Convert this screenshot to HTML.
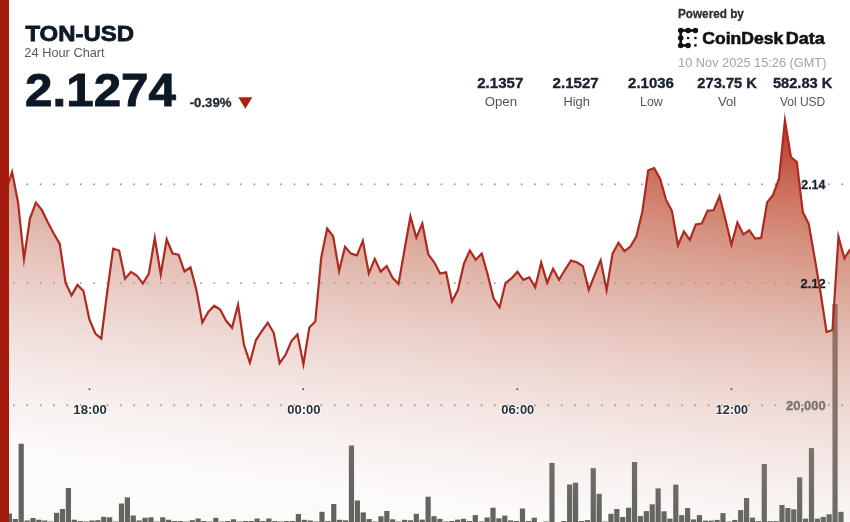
<!DOCTYPE html>
<html><head><meta charset="utf-8"><style>
html,body{margin:0;padding:0;background:#fff;width:850px;height:522px;overflow:hidden}
svg{display:block;will-change:transform;font-family:"Liberation Sans",sans-serif}
</style></head><body>
<svg width="850" height="522" viewBox="0 0 850 522">
<defs><linearGradient id="g" gradientUnits="userSpaceOnUse" x1="650" y1="124" x2="602.56" y2="519.31"><stop offset="0" stop-color="rgb(183,49,30)" stop-opacity="0.9"/><stop offset="0.14" stop-color="rgb(192,78,52)" stop-opacity="0.78"/><stop offset="0.26" stop-color="rgb(196,100,74)" stop-opacity="0.7"/><stop offset="0.47" stop-color="rgb(201,125,106)" stop-opacity="0.51"/><stop offset="0.75" stop-color="rgb(211,155,143)" stop-opacity="0.27"/><stop offset="0.91" stop-color="rgb(205,163,152)" stop-opacity="0.12"/><stop offset="1" stop-color="rgb(200,130,125)" stop-opacity="0.04"/></linearGradient></defs>
<rect x="0" y="0" width="850" height="522" fill="#fff"/>
<g fill="#5c645d"><rect x="6.8" y="513.5" width="5.2" height="8.5"/><rect x="12.7" y="519" width="5.2" height="3"/><rect x="18.6" y="443.7" width="5.2" height="78.3"/><rect x="24.5" y="520.5" width="5.2" height="1.5"/><rect x="30.39" y="518" width="5.2" height="4"/><rect x="36.29" y="519.7" width="5.2" height="2.3"/><rect x="42.19" y="520.5" width="5.2" height="1.5"/><rect x="48.09" y="521.5" width="5.2" height="0.5"/><rect x="53.98" y="512.8" width="5.2" height="9.2"/><rect x="59.88" y="509" width="5.2" height="13"/><rect x="65.78" y="488" width="5.2" height="34"/><rect x="71.68" y="519.7" width="5.2" height="2.3"/><rect x="77.58" y="521" width="5.2" height="1"/><rect x="83.47" y="521.5" width="5.2" height="0.5"/><rect x="89.37" y="520.5" width="5.2" height="1.5"/><rect x="95.27" y="520.2" width="5.2" height="1.8"/><rect x="101.17" y="516.8" width="5.2" height="5.2"/><rect x="107.06" y="517.3" width="5.2" height="4.7"/><rect x="112.96" y="521.5" width="5.2" height="0.5"/><rect x="118.86" y="503.5" width="5.2" height="18.5"/><rect x="124.76" y="497.3" width="5.2" height="24.7"/><rect x="130.65" y="515.5" width="5.2" height="6.5"/><rect x="136.55" y="520.5" width="5.2" height="1.5"/><rect x="142.45" y="517.8" width="5.2" height="4.2"/><rect x="148.34" y="517.3" width="5.2" height="4.7"/><rect x="154.24" y="521.5" width="5.2" height="0.5"/><rect x="160.14" y="517.3" width="5.2" height="4.7"/><rect x="166.04" y="519.7" width="5.2" height="2.3"/><rect x="171.94" y="521" width="5.2" height="1"/><rect x="177.83" y="521" width="5.2" height="1"/><rect x="183.73" y="521.5" width="5.2" height="0.5"/><rect x="189.63" y="520.2" width="5.2" height="1.8"/><rect x="195.53" y="518.5" width="5.2" height="3.5"/><rect x="201.42" y="521" width="5.2" height="1"/><rect x="207.32" y="521.5" width="5.2" height="0.5"/><rect x="213.22" y="517.8" width="5.2" height="4.2"/><rect x="219.11" y="521.5" width="5.2" height="0.5"/><rect x="225.01" y="521" width="5.2" height="1"/><rect x="230.91" y="519.3" width="5.2" height="2.7"/><rect x="236.81" y="521.5" width="5.2" height="0.5"/><rect x="242.7" y="521" width="5.2" height="1"/><rect x="248.6" y="521" width="5.2" height="1"/><rect x="254.5" y="518.5" width="5.2" height="3.5"/><rect x="260.4" y="521" width="5.2" height="1"/><rect x="266.29" y="518.5" width="5.2" height="3.5"/><rect x="272.19" y="521" width="5.2" height="1"/><rect x="278.09" y="521.5" width="5.2" height="0.5"/><rect x="283.99" y="521" width="5.2" height="1"/><rect x="289.88" y="521" width="5.2" height="1"/><rect x="295.78" y="514" width="5.2" height="8"/><rect x="301.68" y="519.8" width="5.2" height="2.2"/><rect x="307.58" y="520.5" width="5.2" height="1.5"/><rect x="313.47" y="521.5" width="5.2" height="0.5"/><rect x="319.37" y="511.8" width="5.2" height="10.2"/><rect x="325.27" y="521" width="5.2" height="1"/><rect x="331.17" y="504" width="5.2" height="18"/><rect x="337.06" y="519.8" width="5.2" height="2.2"/><rect x="342.96" y="520.3" width="5.2" height="1.7"/><rect x="348.86" y="445.5" width="5.2" height="76.5"/><rect x="354.76" y="500.5" width="5.2" height="21.5"/><rect x="360.65" y="512.4" width="5.2" height="9.6"/><rect x="366.55" y="519" width="5.2" height="3"/><rect x="372.45" y="521.5" width="5.2" height="0.5"/><rect x="378.35" y="516.3" width="5.2" height="5.7"/><rect x="384.24" y="511" width="5.2" height="11"/><rect x="390.14" y="519.3" width="5.2" height="2.7"/><rect x="396.04" y="521.5" width="5.2" height="0.5"/><rect x="401.94" y="519.8" width="5.2" height="2.2"/><rect x="407.83" y="520.3" width="5.2" height="1.7"/><rect x="413.73" y="513.8" width="5.2" height="8.2"/><rect x="419.63" y="519.6" width="5.2" height="2.4"/><rect x="425.53" y="496.7" width="5.2" height="25.3"/><rect x="431.42" y="516.2" width="5.2" height="5.8"/><rect x="437.32" y="518.8" width="5.2" height="3.2"/><rect x="443.22" y="521.4" width="5.2" height="0.6"/><rect x="449.12" y="521" width="5.2" height="1"/><rect x="455.01" y="519.6" width="5.2" height="2.4"/><rect x="460.91" y="518.8" width="5.2" height="3.2"/><rect x="466.81" y="521" width="5.2" height="1"/><rect x="472.71" y="515.1" width="5.2" height="6.9"/><rect x="478.6" y="521.4" width="5.2" height="0.6"/><rect x="484.5" y="517.5" width="5.2" height="4.5"/><rect x="490.4" y="507.7" width="5.2" height="14.3"/><rect x="496.3" y="518.3" width="5.2" height="3.7"/><rect x="502.19" y="515.6" width="5.2" height="6.4"/><rect x="508.09" y="520.4" width="5.2" height="1.6"/><rect x="513.99" y="521" width="5.2" height="1"/><rect x="519.89" y="508.5" width="5.2" height="13.5"/><rect x="525.78" y="521" width="5.2" height="1"/><rect x="531.68" y="517.7" width="5.2" height="4.3"/><rect x="543.48" y="521.5" width="5.2" height="0.5"/><rect x="549.38" y="462.9" width="5.2" height="59.1"/><rect x="561.17" y="521" width="5.2" height="1"/><rect x="567.07" y="484.5" width="5.2" height="37.5"/><rect x="572.97" y="482.7" width="5.2" height="39.3"/><rect x="578.86" y="521" width="5.2" height="1"/><rect x="584.76" y="520.1" width="5.2" height="1.9"/><rect x="590.66" y="468.2" width="5.2" height="53.8"/><rect x="596.56" y="493.8" width="5.2" height="28.2"/><rect x="602.45" y="521.5" width="5.2" height="0.5"/><rect x="608.35" y="513.8" width="5.2" height="8.2"/><rect x="614.25" y="509" width="5.2" height="13"/><rect x="620.14" y="517" width="5.2" height="5"/><rect x="626.04" y="507.7" width="5.2" height="14.3"/><rect x="631.94" y="462" width="5.2" height="60"/><rect x="637.84" y="516.1" width="5.2" height="5.9"/><rect x="643.74" y="511.1" width="5.2" height="10.9"/><rect x="649.63" y="504.3" width="5.2" height="17.7"/><rect x="655.53" y="488.4" width="5.2" height="33.6"/><rect x="661.43" y="511.3" width="5.2" height="10.7"/><rect x="667.33" y="518.6" width="5.2" height="3.4"/><rect x="673.22" y="484.6" width="5.2" height="37.4"/><rect x="679.12" y="515.1" width="5.2" height="6.9"/><rect x="685.02" y="508" width="5.2" height="14"/><rect x="690.91" y="519.4" width="5.2" height="2.6"/><rect x="696.81" y="515.1" width="5.2" height="6.9"/><rect x="702.71" y="520.6" width="5.2" height="1.4"/><rect x="708.61" y="520.6" width="5.2" height="1.4"/><rect x="714.5" y="519.9" width="5.2" height="2.1"/><rect x="720.4" y="513.1" width="5.2" height="8.9"/><rect x="726.3" y="521.5" width="5.2" height="0.5"/><rect x="732.2" y="519.9" width="5.2" height="2.1"/><rect x="738.1" y="510.1" width="5.2" height="11.9"/><rect x="743.99" y="498" width="5.2" height="24"/><rect x="749.89" y="517.6" width="5.2" height="4.4"/><rect x="755.79" y="521.1" width="5.2" height="0.9"/><rect x="761.69" y="464" width="5.2" height="58"/><rect x="767.58" y="521.1" width="5.2" height="0.9"/><rect x="773.48" y="521.1" width="5.2" height="0.9"/><rect x="779.38" y="505" width="5.2" height="17"/><rect x="785.27" y="508" width="5.2" height="14"/><rect x="791.17" y="509.3" width="5.2" height="12.7"/><rect x="797.07" y="477.3" width="5.2" height="44.7"/><rect x="802.97" y="518.6" width="5.2" height="3.4"/><rect x="808.87" y="448.1" width="5.2" height="73.9"/><rect x="814.76" y="518.6" width="5.2" height="3.4"/><rect x="820.66" y="516.9" width="5.2" height="5.1"/><rect x="826.56" y="514.3" width="5.2" height="7.7"/><rect x="832.46" y="304" width="5.2" height="218"/><rect x="838.35" y="511.8" width="5.2" height="10.2"/></g>
<path d="M6.15,190 L12.1,172 L18.05,202.4 L23.99,259 L29.94,218.6 L35.88,202.6 L41.83,209.9 L47.77,222.3 L53.72,233.5 L59.66,243.6 L65.61,282.9 L71.55,295.4 L77.5,284.9 L83.44,291.1 L89.38,319.3 L95.33,333.5 L101.28,338.5 L107.22,292 L113.16,248.7 L119.11,250.5 L125.06,278.7 L131,271.9 L136.94,275.7 L142.89,283.6 L148.84,273.7 L154.78,237.8 L160.72,274.5 L166.67,239.5 L172.62,253.5 L178.56,254.7 L184.5,271.5 L190.45,267.4 L196.4,289.9 L202.34,322.5 L208.28,312 L214.23,305.7 L220.18,309.5 L226.12,320.8 L232.06,327.8 L238.01,304.7 L243.96,344.8 L249.9,362.7 L255.84,340.3 L261.79,331.1 L267.74,322.8 L273.68,332.8 L279.63,363.2 L285.57,354.8 L291.52,341 L297.46,334.3 L303.41,364.3 L309.35,327.5 L315.3,321.5 L321.24,257.4 L327.19,228.6 L333.13,236.2 L339.08,271.1 L345.02,246.8 L350.97,253.6 L356.91,255.4 L362.86,240.9 L368.8,273.3 L374.75,258.9 L380.69,271.6 L386.64,266.1 L392.58,277.8 L398.53,284 L404.47,250 L410.42,216.5 L416.36,237.6 L422.31,223.6 L428.25,254.3 L434.2,262.3 L440.14,273.5 L446.09,272.3 L452.03,301.5 L457.98,289.8 L463.92,263.6 L469.87,250.6 L475.81,259.8 L481.76,253.6 L487.7,274.8 L493.65,298.5 L499.59,307.3 L505.54,282.8 L511.48,278.5 L517.43,271.8 L523.37,279.8 L529.32,277.3 L535.26,287.3 L541.21,262.6 L547.15,282.8 L553.1,268.8 L559.04,279.8 L564.99,269.8 L570.93,260.6 L576.88,262.3 L582.82,266.1 L588.77,289.8 L594.71,274.8 L600.66,260.2 L606.6,290.1 L612.55,253.6 L618.49,242.8 L624.44,251.1 L630.38,246.5 L636.33,236.5 L642.27,212 L648.22,170.2 L654.16,168 L660.11,178.7 L666.05,199.9 L672,211.1 L677.94,245.3 L683.89,231.4 L689.83,240 L695.78,224.4 L701.72,223.6 L707.67,210.6 L713.61,210.3 L719.56,196.1 L725.5,219.8 L731.45,244.8 L737.39,222.5 L743.34,234.4 L749.28,230.3 L755.23,238.6 L761.17,237.9 L767.12,202.4 L773.06,194.9 L779.01,178.7 L784.95,120.5 L790.9,157 L796.84,162 L802.79,212 L808.73,223.8 L814.68,258 L820.62,293 L826.57,332 L832.51,330 L838.46,236.6 L844.4,258.3 L850.35,249 L850.35,522 L6.15,522 Z" fill="url(#g)"/>
<g fill="#959595"><circle cx="13.94" cy="184.3" r="0.95"/><circle cx="27.3" cy="184.3" r="0.95"/><circle cx="40.66" cy="184.3" r="0.95"/><circle cx="54.02" cy="184.3" r="0.95"/><circle cx="67.38" cy="184.3" r="0.95"/><circle cx="80.74" cy="184.3" r="0.95"/><circle cx="94.1" cy="184.3" r="0.95"/><circle cx="107.46" cy="184.3" r="0.95"/><circle cx="120.82" cy="184.3" r="0.95"/><circle cx="134.18" cy="184.3" r="0.95"/><circle cx="147.54" cy="184.3" r="0.95"/><circle cx="160.9" cy="184.3" r="0.95"/><circle cx="174.26" cy="184.3" r="0.95"/><circle cx="187.62" cy="184.3" r="0.95"/><circle cx="200.98" cy="184.3" r="0.95"/><circle cx="214.34" cy="184.3" r="0.95"/><circle cx="227.7" cy="184.3" r="0.95"/><circle cx="241.06" cy="184.3" r="0.95"/><circle cx="254.42" cy="184.3" r="0.95"/><circle cx="267.78" cy="184.3" r="0.95"/><circle cx="281.14" cy="184.3" r="0.95"/><circle cx="294.5" cy="184.3" r="0.95"/><circle cx="307.86" cy="184.3" r="0.95"/><circle cx="321.22" cy="184.3" r="0.95"/><circle cx="334.58" cy="184.3" r="0.95"/><circle cx="347.94" cy="184.3" r="0.95"/><circle cx="361.3" cy="184.3" r="0.95"/><circle cx="374.66" cy="184.3" r="0.95"/><circle cx="388.02" cy="184.3" r="0.95"/><circle cx="401.38" cy="184.3" r="0.95"/><circle cx="414.74" cy="184.3" r="0.95"/><circle cx="428.1" cy="184.3" r="0.95"/><circle cx="441.46" cy="184.3" r="0.95"/><circle cx="454.82" cy="184.3" r="0.95"/><circle cx="468.18" cy="184.3" r="0.95"/><circle cx="481.54" cy="184.3" r="0.95"/><circle cx="494.9" cy="184.3" r="0.95"/><circle cx="508.26" cy="184.3" r="0.95"/><circle cx="521.62" cy="184.3" r="0.95"/><circle cx="534.98" cy="184.3" r="0.95"/><circle cx="548.34" cy="184.3" r="0.95"/><circle cx="561.7" cy="184.3" r="0.95"/><circle cx="575.06" cy="184.3" r="0.95"/><circle cx="588.42" cy="184.3" r="0.95"/><circle cx="601.78" cy="184.3" r="0.95"/><circle cx="615.14" cy="184.3" r="0.95"/><circle cx="628.5" cy="184.3" r="0.95"/><circle cx="641.86" cy="184.3" r="0.95"/><circle cx="655.22" cy="184.3" r="0.95"/><circle cx="668.58" cy="184.3" r="0.95"/><circle cx="681.94" cy="184.3" r="0.95"/><circle cx="695.3" cy="184.3" r="0.95"/><circle cx="708.66" cy="184.3" r="0.95"/><circle cx="722.02" cy="184.3" r="0.95"/><circle cx="735.38" cy="184.3" r="0.95"/><circle cx="748.74" cy="184.3" r="0.95"/><circle cx="762.1" cy="184.3" r="0.95"/><circle cx="775.46" cy="184.3" r="0.95"/><circle cx="788.82" cy="184.3" r="0.95"/><circle cx="802.18" cy="184.3" r="0.95"/><circle cx="815.54" cy="184.3" r="0.95"/><circle cx="828.9" cy="184.3" r="0.95"/><circle cx="842.26" cy="184.3" r="0.95"/><circle cx="13.94" cy="283.1" r="0.95"/><circle cx="27.3" cy="283.1" r="0.95"/><circle cx="40.66" cy="283.1" r="0.95"/><circle cx="54.02" cy="283.1" r="0.95"/><circle cx="67.38" cy="283.1" r="0.95"/><circle cx="80.74" cy="283.1" r="0.95"/><circle cx="94.1" cy="283.1" r="0.95"/><circle cx="107.46" cy="283.1" r="0.95"/><circle cx="120.82" cy="283.1" r="0.95"/><circle cx="134.18" cy="283.1" r="0.95"/><circle cx="147.54" cy="283.1" r="0.95"/><circle cx="160.9" cy="283.1" r="0.95"/><circle cx="174.26" cy="283.1" r="0.95"/><circle cx="187.62" cy="283.1" r="0.95"/><circle cx="200.98" cy="283.1" r="0.95"/><circle cx="214.34" cy="283.1" r="0.95"/><circle cx="227.7" cy="283.1" r="0.95"/><circle cx="241.06" cy="283.1" r="0.95"/><circle cx="254.42" cy="283.1" r="0.95"/><circle cx="267.78" cy="283.1" r="0.95"/><circle cx="281.14" cy="283.1" r="0.95"/><circle cx="294.5" cy="283.1" r="0.95"/><circle cx="307.86" cy="283.1" r="0.95"/><circle cx="321.22" cy="283.1" r="0.95"/><circle cx="334.58" cy="283.1" r="0.95"/><circle cx="347.94" cy="283.1" r="0.95"/><circle cx="361.3" cy="283.1" r="0.95"/><circle cx="374.66" cy="283.1" r="0.95"/><circle cx="388.02" cy="283.1" r="0.95"/><circle cx="401.38" cy="283.1" r="0.95"/><circle cx="414.74" cy="283.1" r="0.95"/><circle cx="428.1" cy="283.1" r="0.95"/><circle cx="441.46" cy="283.1" r="0.95"/><circle cx="454.82" cy="283.1" r="0.95"/><circle cx="468.18" cy="283.1" r="0.95"/><circle cx="481.54" cy="283.1" r="0.95"/><circle cx="494.9" cy="283.1" r="0.95"/><circle cx="508.26" cy="283.1" r="0.95"/><circle cx="521.62" cy="283.1" r="0.95"/><circle cx="534.98" cy="283.1" r="0.95"/><circle cx="548.34" cy="283.1" r="0.95"/><circle cx="561.7" cy="283.1" r="0.95"/><circle cx="575.06" cy="283.1" r="0.95"/><circle cx="588.42" cy="283.1" r="0.95"/><circle cx="601.78" cy="283.1" r="0.95"/><circle cx="615.14" cy="283.1" r="0.95"/><circle cx="628.5" cy="283.1" r="0.95"/><circle cx="641.86" cy="283.1" r="0.95"/><circle cx="655.22" cy="283.1" r="0.95"/><circle cx="668.58" cy="283.1" r="0.95"/><circle cx="681.94" cy="283.1" r="0.95"/><circle cx="695.3" cy="283.1" r="0.95"/><circle cx="708.66" cy="283.1" r="0.95"/><circle cx="722.02" cy="283.1" r="0.95"/><circle cx="735.38" cy="283.1" r="0.95"/><circle cx="748.74" cy="283.1" r="0.95"/><circle cx="762.1" cy="283.1" r="0.95"/><circle cx="775.46" cy="283.1" r="0.95"/><circle cx="788.82" cy="283.1" r="0.95"/><circle cx="802.18" cy="283.1" r="0.95"/><circle cx="815.54" cy="283.1" r="0.95"/><circle cx="828.9" cy="283.1" r="0.95"/><circle cx="842.26" cy="283.1" r="0.95"/><circle cx="13.94" cy="405.2" r="0.95"/><circle cx="27.3" cy="405.2" r="0.95"/><circle cx="40.66" cy="405.2" r="0.95"/><circle cx="54.02" cy="405.2" r="0.95"/><circle cx="67.38" cy="405.2" r="0.95"/><circle cx="80.74" cy="405.2" r="0.95"/><circle cx="94.1" cy="405.2" r="0.95"/><circle cx="107.46" cy="405.2" r="0.95"/><circle cx="120.82" cy="405.2" r="0.95"/><circle cx="134.18" cy="405.2" r="0.95"/><circle cx="147.54" cy="405.2" r="0.95"/><circle cx="160.9" cy="405.2" r="0.95"/><circle cx="174.26" cy="405.2" r="0.95"/><circle cx="187.62" cy="405.2" r="0.95"/><circle cx="200.98" cy="405.2" r="0.95"/><circle cx="214.34" cy="405.2" r="0.95"/><circle cx="227.7" cy="405.2" r="0.95"/><circle cx="241.06" cy="405.2" r="0.95"/><circle cx="254.42" cy="405.2" r="0.95"/><circle cx="267.78" cy="405.2" r="0.95"/><circle cx="281.14" cy="405.2" r="0.95"/><circle cx="294.5" cy="405.2" r="0.95"/><circle cx="307.86" cy="405.2" r="0.95"/><circle cx="321.22" cy="405.2" r="0.95"/><circle cx="334.58" cy="405.2" r="0.95"/><circle cx="347.94" cy="405.2" r="0.95"/><circle cx="361.3" cy="405.2" r="0.95"/><circle cx="374.66" cy="405.2" r="0.95"/><circle cx="388.02" cy="405.2" r="0.95"/><circle cx="401.38" cy="405.2" r="0.95"/><circle cx="414.74" cy="405.2" r="0.95"/><circle cx="428.1" cy="405.2" r="0.95"/><circle cx="441.46" cy="405.2" r="0.95"/><circle cx="454.82" cy="405.2" r="0.95"/><circle cx="468.18" cy="405.2" r="0.95"/><circle cx="481.54" cy="405.2" r="0.95"/><circle cx="494.9" cy="405.2" r="0.95"/><circle cx="508.26" cy="405.2" r="0.95"/><circle cx="521.62" cy="405.2" r="0.95"/><circle cx="534.98" cy="405.2" r="0.95"/><circle cx="548.34" cy="405.2" r="0.95"/><circle cx="561.7" cy="405.2" r="0.95"/><circle cx="575.06" cy="405.2" r="0.95"/><circle cx="588.42" cy="405.2" r="0.95"/><circle cx="601.78" cy="405.2" r="0.95"/><circle cx="615.14" cy="405.2" r="0.95"/><circle cx="628.5" cy="405.2" r="0.95"/><circle cx="641.86" cy="405.2" r="0.95"/><circle cx="655.22" cy="405.2" r="0.95"/><circle cx="668.58" cy="405.2" r="0.95"/><circle cx="681.94" cy="405.2" r="0.95"/><circle cx="695.3" cy="405.2" r="0.95"/><circle cx="708.66" cy="405.2" r="0.95"/><circle cx="722.02" cy="405.2" r="0.95"/><circle cx="735.38" cy="405.2" r="0.95"/><circle cx="748.74" cy="405.2" r="0.95"/><circle cx="762.1" cy="405.2" r="0.95"/><circle cx="775.46" cy="405.2" r="0.95"/><circle cx="788.82" cy="405.2" r="0.95"/><circle cx="802.18" cy="405.2" r="0.95"/><circle cx="815.54" cy="405.2" r="0.95"/><circle cx="828.9" cy="405.2" r="0.95"/><circle cx="842.26" cy="405.2" r="0.95"/></g>
<g fill="#444"><rect x="88.7" y="388.4" width="1.6" height="1.6"/><rect x="302.4" y="388.4" width="1.6" height="1.6"/><rect x="516.5" y="388.4" width="1.6" height="1.6"/><rect x="730.7" y="388.4" width="1.6" height="1.6"/></g>
<text x="801.34" y="189.2" font-weight="bold" font-size="13" fill="#1c2330" textLength="23.98" lengthAdjust="spacingAndGlyphs" stroke="#1c2330" stroke-width="0.3">2.14</text>
<text x="800.41" y="287.9" font-weight="bold" font-size="13" fill="#1c2330" textLength="25.33" lengthAdjust="spacingAndGlyphs" stroke="#1c2330" stroke-width="0.3">2.12</text>
<text x="786.03" y="410.2" font-weight="bold" font-size="13" fill="#7a7370" textLength="39.63" lengthAdjust="spacingAndGlyphs" stroke="#7a7370" stroke-width="0.3">20,000</text>
<text x="73.35" y="414" font-weight="bold" font-size="13.4" fill="#262f3a" textLength="33.49" lengthAdjust="spacingAndGlyphs" stroke="#fff" stroke-opacity="0.85" stroke-width="1.8" paint-order="stroke" stroke-linejoin="round">18:00</text>
<text x="287.23" y="414" font-weight="bold" font-size="13.4" fill="#262f3a" textLength="33.33" lengthAdjust="spacingAndGlyphs" stroke="#fff" stroke-opacity="0.85" stroke-width="1.8" paint-order="stroke" stroke-linejoin="round">00:00</text>
<text x="501.24" y="414" font-weight="bold" font-size="13.4" fill="#262f3a" textLength="33.03" lengthAdjust="spacingAndGlyphs" stroke="#fff" stroke-opacity="0.85" stroke-width="1.8" paint-order="stroke" stroke-linejoin="round">06:00</text>
<text x="715.65" y="414" font-weight="bold" font-size="13.4" fill="#262f3a" textLength="32.34" lengthAdjust="spacingAndGlyphs" stroke="#fff" stroke-opacity="0.85" stroke-width="1.8" paint-order="stroke" stroke-linejoin="round">12:00</text>
<path d="M6.15,190 L12.1,172 L18.05,202.4 L23.99,259 L29.94,218.6 L35.88,202.6 L41.83,209.9 L47.77,222.3 L53.72,233.5 L59.66,243.6 L65.61,282.9 L71.55,295.4 L77.5,284.9 L83.44,291.1 L89.38,319.3 L95.33,333.5 L101.28,338.5 L107.22,292 L113.16,248.7 L119.11,250.5 L125.06,278.7 L131,271.9 L136.94,275.7 L142.89,283.6 L148.84,273.7 L154.78,237.8 L160.72,274.5 L166.67,239.5 L172.62,253.5 L178.56,254.7 L184.5,271.5 L190.45,267.4 L196.4,289.9 L202.34,322.5 L208.28,312 L214.23,305.7 L220.18,309.5 L226.12,320.8 L232.06,327.8 L238.01,304.7 L243.96,344.8 L249.9,362.7 L255.84,340.3 L261.79,331.1 L267.74,322.8 L273.68,332.8 L279.63,363.2 L285.57,354.8 L291.52,341 L297.46,334.3 L303.41,364.3 L309.35,327.5 L315.3,321.5 L321.24,257.4 L327.19,228.6 L333.13,236.2 L339.08,271.1 L345.02,246.8 L350.97,253.6 L356.91,255.4 L362.86,240.9 L368.8,273.3 L374.75,258.9 L380.69,271.6 L386.64,266.1 L392.58,277.8 L398.53,284 L404.47,250 L410.42,216.5 L416.36,237.6 L422.31,223.6 L428.25,254.3 L434.2,262.3 L440.14,273.5 L446.09,272.3 L452.03,301.5 L457.98,289.8 L463.92,263.6 L469.87,250.6 L475.81,259.8 L481.76,253.6 L487.7,274.8 L493.65,298.5 L499.59,307.3 L505.54,282.8 L511.48,278.5 L517.43,271.8 L523.37,279.8 L529.32,277.3 L535.26,287.3 L541.21,262.6 L547.15,282.8 L553.1,268.8 L559.04,279.8 L564.99,269.8 L570.93,260.6 L576.88,262.3 L582.82,266.1 L588.77,289.8 L594.71,274.8 L600.66,260.2 L606.6,290.1 L612.55,253.6 L618.49,242.8 L624.44,251.1 L630.38,246.5 L636.33,236.5 L642.27,212 L648.22,170.2 L654.16,168 L660.11,178.7 L666.05,199.9 L672,211.1 L677.94,245.3 L683.89,231.4 L689.83,240 L695.78,224.4 L701.72,223.6 L707.67,210.6 L713.61,210.3 L719.56,196.1 L725.5,219.8 L731.45,244.8 L737.39,222.5 L743.34,234.4 L749.28,230.3 L755.23,238.6 L761.17,237.9 L767.12,202.4 L773.06,194.9 L779.01,178.7 L784.95,120.5 L790.9,157 L796.84,162 L802.79,212 L808.73,223.8 L814.68,258 L820.62,293 L826.57,332 L832.51,330 L838.46,236.6 L844.4,258.3 L850.35,249" fill="none" stroke="#ac2a20" stroke-width="2.2" stroke-linejoin="miter" stroke-miterlimit="10"/>
<rect x="0" y="0" width="9" height="522" fill="#a41c0e"/>
<text x="25.4" y="41" font-weight="bold" font-size="22.4" fill="#0e1928" textLength="108.67" lengthAdjust="spacingAndGlyphs" stroke="#0e1928" stroke-width="0.8">TON-USD</text>
<text x="24.38" y="57.4" font-weight="normal" font-size="12.7" fill="#555a60" textLength="80.3" lengthAdjust="spacingAndGlyphs">24 Hour Chart</text>
<text x="25.13" y="106" font-weight="bold" font-size="46.8" fill="#0d1826" textLength="150.81" lengthAdjust="spacingAndGlyphs" stroke="#0d1826" stroke-width="0.9">2.1274</text>
<text x="189.68" y="107" font-weight="bold" font-size="13" fill="#222a33" textLength="41.9" lengthAdjust="spacingAndGlyphs" stroke="#222a33" stroke-width="0.3">-0.39%</text>
<text x="677.94" y="18.3" font-weight="bold" font-size="12.8" fill="#2e2e2e" textLength="65.97" lengthAdjust="spacingAndGlyphs" stroke="#2e2e2e" stroke-width="0.3">Powered by</text>
<text x="702.28" y="43.6" font-weight="bold" font-size="16.2" fill="#111111" textLength="80.97" lengthAdjust="spacingAndGlyphs" stroke="#111111" stroke-width="0.55">CoinDesk</text>
<text x="785.88" y="43.6" font-weight="bold" font-size="16.2" fill="#111111" textLength="38.96" lengthAdjust="spacingAndGlyphs" stroke="#111111" stroke-width="0.55">Data</text>
<text x="678.11" y="66.6" font-weight="normal" font-size="12.9" fill="#a3a3a3" textLength="148.3" lengthAdjust="spacingAndGlyphs">10 Nov 2025 15:26 (GMT)</text>
<text x="477.26" y="87.6" font-weight="bold" font-size="14.6" fill="#1a2230" textLength="46.02" lengthAdjust="spacingAndGlyphs" stroke="#1a2230" stroke-width="0.35">2.1357</text>
<text x="552.55" y="87.6" font-weight="bold" font-size="14.6" fill="#1a2230" textLength="46.14" lengthAdjust="spacingAndGlyphs" stroke="#1a2230" stroke-width="0.35">2.1527</text>
<text x="628.12" y="87.6" font-weight="bold" font-size="14.6" fill="#1a2230" textLength="45.77" lengthAdjust="spacingAndGlyphs" stroke="#1a2230" stroke-width="0.35">2.1036</text>
<text x="697.29" y="87.6" font-weight="bold" font-size="14.6" fill="#1a2230" textLength="59.66" lengthAdjust="spacingAndGlyphs" stroke="#1a2230" stroke-width="0.35">273.75 K</text>
<text x="772.88" y="87.6" font-weight="bold" font-size="14.6" fill="#1a2230" textLength="59.58" lengthAdjust="spacingAndGlyphs" stroke="#1a2230" stroke-width="0.35">582.83 K</text>
<text x="484.72" y="105.6" font-weight="normal" font-size="12.4" fill="#50555c" textLength="32.36" lengthAdjust="spacingAndGlyphs">Open</text>
<text x="563.45" y="105.6" font-weight="normal" font-size="12.4" fill="#50555c" textLength="26.43" lengthAdjust="spacingAndGlyphs">High</text>
<text x="640.1" y="105.6" font-weight="normal" font-size="12.4" fill="#50555c" textLength="22.66" lengthAdjust="spacingAndGlyphs">Low</text>
<text x="718" y="105.6" font-weight="normal" font-size="12.4" fill="#50555c" textLength="18.15" lengthAdjust="spacingAndGlyphs">Vol</text>
<text x="779.92" y="105.6" font-weight="normal" font-size="12.4" fill="#50555c" textLength="45.39" lengthAdjust="spacingAndGlyphs">Vol USD</text>
<path d="M238.3,97.3 L252.4,97.3 L245.35,108.8 Z" fill="#b01e12"/>
<g fill="#111">
<circle cx="680.7" cy="30.5" r="2.75"/><circle cx="688.1" cy="30.5" r="2.75"/><circle cx="695.4" cy="30.5" r="2.75"/>
<circle cx="680.7" cy="38.0" r="2.75"/><circle cx="680.7" cy="45.4" r="2.75"/><circle cx="688.1" cy="45.4" r="2.75"/>
<rect x="680.7" y="29.2" width="14.7" height="2.6"/><rect x="679.4" y="30.5" width="2.6" height="14.9"/><rect x="680.7" y="44.1" width="7.4" height="2.6"/>
<circle cx="688.1" cy="38.0" r="1.35"/><circle cx="695.4" cy="38.0" r="1.35"/><circle cx="695.4" cy="45.4" r="1.35"/>
</g>
</svg>
</body></html>
